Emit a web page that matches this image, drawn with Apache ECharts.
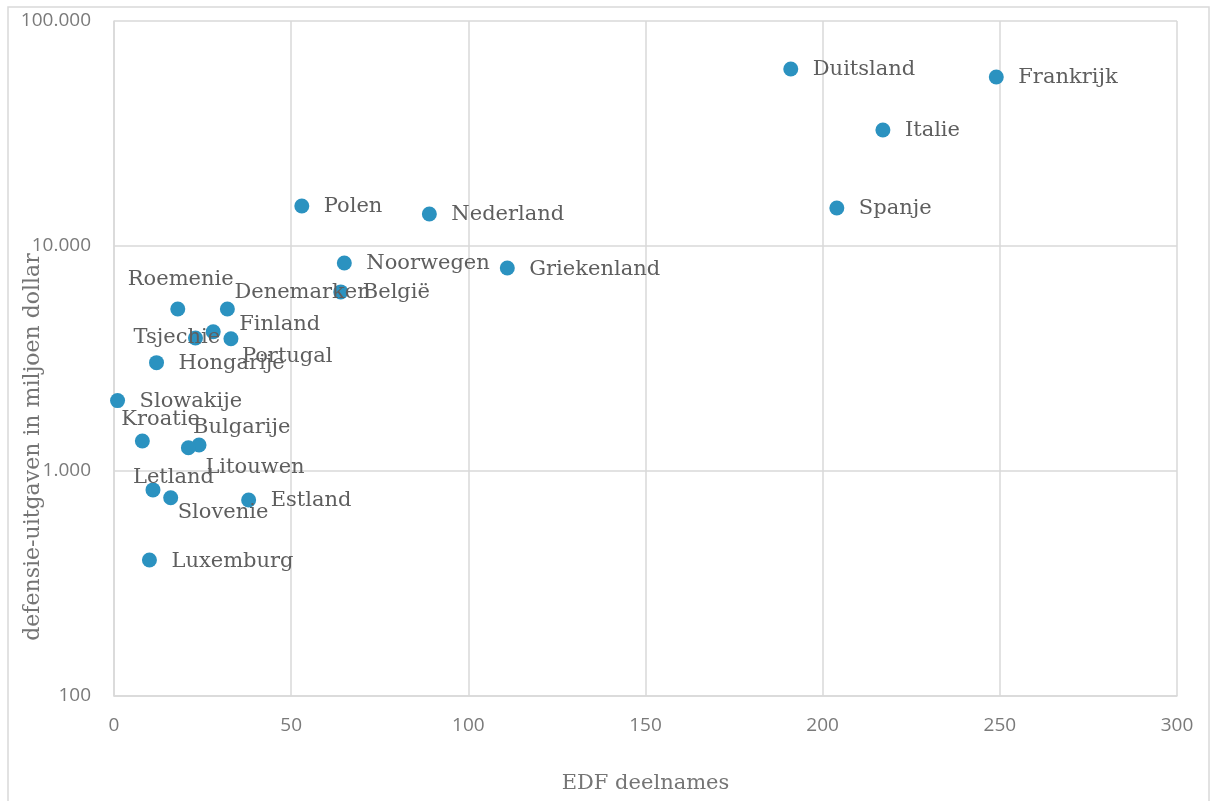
<!DOCTYPE html>
<html>
<head>
<meta charset="utf-8">
<script src="https://cdn.jsdelivr.net/npm/echarts@6/dist/echarts.min.js"></script>
<style>
	html, body { margin: 0; padding: 0; background: #fff; }
	#chart { width: 1212px; height: 801px; }
</style>
</head>
<body>
<div id="chart"></div>
<script>
	// landen, aantal EDF deelnames en defensie-uitgaven (miljoen dollar)
	var landen = ['Duitsland', 'Frankrijk', 'Italie', 'Spanje', 'Polen', 'Nederland', 'Noorwegen', 'Griekenland',
		'België', 'Roemenie', 'Denemarken', 'Tsjechie', 'Finland', 'Portugal', 'Hongarije', 'Slowakije',
		'Kroatie', 'Bulgarije', 'Litouwen', 'Letland', 'Slovenie', 'Estland', 'Luxemburg'];
	var deelnames = [191, 249, 217, 204, 53, 89, 65, 111, 64, 18, 32, 23, 28, 33, 12, 1, 8, 24, 21, 11, 16, 38, 10];
	var uitgaven = [61200, 56400, 32800, 14750, 15060, 13870, 8400, 7980, 6250, 5250, 5250, 3900, 4160, 3870,
		3030, 2055, 1360, 1305, 1269, 824, 760, 743, 402];
	var xTicks = [0, 50, 100, 150, 200, 250, 300];
	var yTicks = [100, 1000, 10000, 100000];

	// afwijkende plek van het label t.o.v. het punt [dx, dy]; standaard rechts
	var labelPlek = {
		'Roemenie': [-50, -29],
		'Denemarken': [7, -16],
		'Tsjechie': [-62, 0],
		'Finland': [26, -7],
		'Portugal': [11, 18],
		'Kroatie': [-21, -21],
		'Bulgarije': [-6, -17],
		'Litouwen': [17, 20],
		'Letland': [-20, -12],
		'Slovenie': [7, 15]
	};

	var half = 7.5;
	var punten = landen.map(function(naam, i) {
		var p = labelPlek[naam] || [22, 1];
		return {
			name: naam,
			value: [deelnames[i], uitgaven[i]],
			label: { position: [p[0] + half, p[1] + half] }
		};
	});

	function punt(v) {
		return String(v).replace(/\B(?=(\d{3})+(?!\d))/g, '.');
	}

	var myChart = echarts.init(document.getElementById('chart'));
	var grijs = '#d9d9d9';
	var option = {
		animation: false,
		grid: { left: 114, right: 35, top: 21, bottom: 105 },
		xAxis: {
			type: 'value',
			min: xTicks[0],
			max: xTicks[xTicks.length - 1],
			interval: 50,
			name: 'EDF deelnames',
			nameLocation: 'middle',
			nameGap: 77,
			nameTextStyle: { fontFamily: 'DejaVu Serif', fontSize: 21, color: '#757575' },
			axisLine: { lineStyle: { color: grijs, width: 1.5 } },
			axisTick: { show: false },
			splitLine: { show: true, lineStyle: { color: grijs, width: 1.5 } },
			axisLabel: { fontFamily: 'Open Sans', fontSize: 19, color: '#7a7a7a', margin: 20 }
		},
		yAxis: {
			type: 'log',
			logBase: 10,
			min: yTicks[0],
			max: yTicks[yTicks.length - 1],
			axisLine: { show: true, lineStyle: { color: grijs, width: 1.5 } },
			axisTick: { show: false },
			splitLine: { show: true, lineStyle: { color: grijs, width: 1.5 } },
			axisLabel: {
				fontFamily: 'Open Sans', fontSize: 19, color: '#7a7a7a', margin: 23,
				formatter: function(v) { return punt(Math.round(v)); }
			}
		},
		series: [{
			type: 'scatter',
			symbolSize: 15,
			itemStyle: { color: '#2b92c0', opacity: 1 },
			label: {
				show: true,
				formatter: '{b}',
				align: 'left',
				verticalAlign: 'middle',
				fontFamily: 'DejaVu Serif',
				fontSize: 21,
				color: '#5e5e5e'
			},
			labelLayout: { hideOverlap: false },
			data: punten
		}],
		graphic: [
			{
				type: 'rect',
				shape: { x: 8, y: 7, width: 1201, height: 800 },
				style: { fill: 'none', stroke: grijs, lineWidth: 1.5 },
				silent: true
			},
			{
				type: 'text',
				x: 33,
				y: 447,
				rotation: Math.PI / 2,
				style: {
					text: 'defensie-uitgaven in miljoen dollar',
					fontFamily: 'DejaVu Serif',
					fontSize: 22,
					fill: '#757575',
					align: 'center',
					verticalAlign: 'middle'
				}
			}
		]
	};
	myChart.setOption(option);
</script>
</body>
</html>
